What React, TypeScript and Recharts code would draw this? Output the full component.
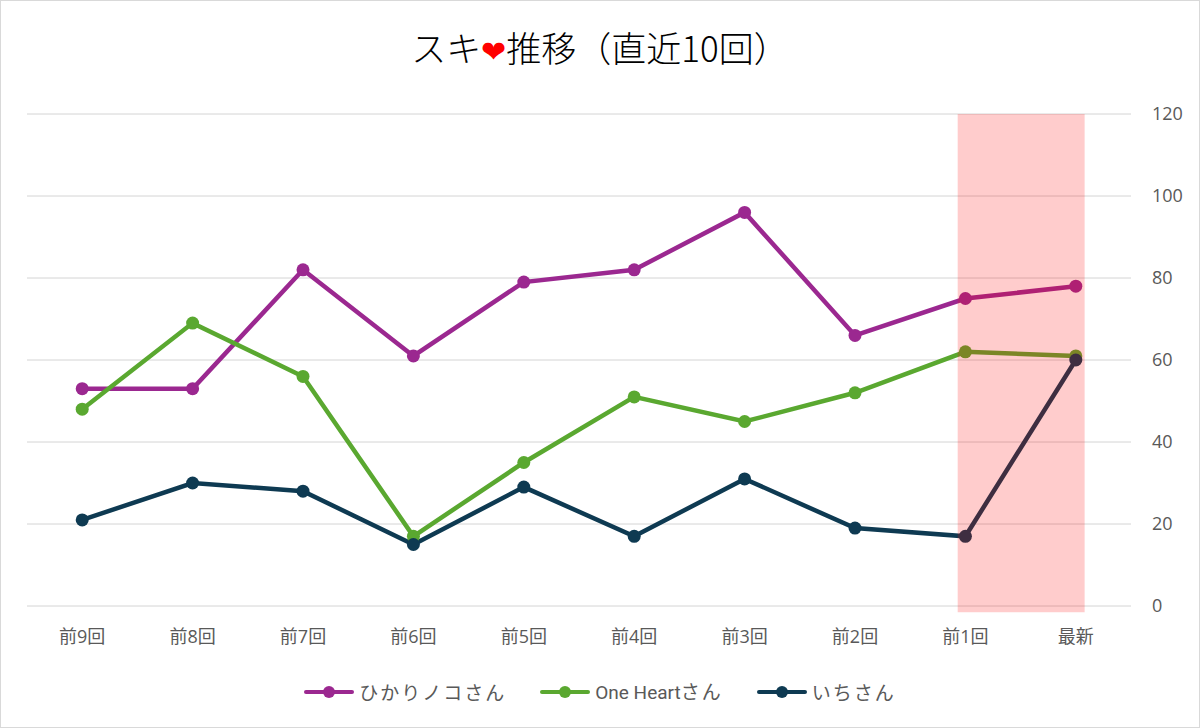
import { CartesianGrid, Line, LineChart, ReferenceArea, XAxis, YAxis } from 'recharts'

const rounds = ['前9回', '前8回', '前7回', '前6回', '前5回', '前4回', '前3回', '前2回', '前1回', '最新']
const hikari = [53, 53, 82, 61, 79, 82, 96, 66, 75, 78]
const oneHeart = [48, 69, 56, 17, 35, 51, 45, 52, 62, 61]
const ichi = [21, 30, 28, 15, 29, 17, 31, 19, 17, 60]
const yTicks = [0, 20, 40, 60, 80, 100, 120]

const series = [
  { key: 'hikari', name: 'ひかりノコさん', color: '#9B2890', values: hikari },
  { key: 'oneHeart', name: 'One Heartさん', color: '#5AA830', values: oneHeart },
  { key: 'ichi', name: 'いちさん', color: '#0E3A52', values: ichi },
]

const data = rounds.map((round, i) => ({
  idx: i,
  round,
  hikari: hikari[i],
  oneHeart: oneHeart[i],
  ichi: ichi[i],
}))

const font = '"Noto Sans CJK JP", "Noto Sans", sans-serif'
const tickFont = '"Open Sans", "Noto Sans CJK JP", sans-serif'
const grey = '#595959'

// latin runs in Roboto, kana spaced out a little like the original
function LegendName({ text }: { text: string }) {
  const parts = text.match(/[A-Za-z ]+|[^A-Za-z ]+/g) || []
  return (
    <span>
      {parts.map((p, i) =>
        /[A-Za-z]/.test(p) ? (
          <span key={i} style={{ fontFamily: 'Roboto, sans-serif', letterSpacing: 0 }}>
            {p}
          </span>
        ) : (
          <span key={i} style={{ letterSpacing: 2 }}>
            {p}
          </span>
        )
      )}
    </span>
  )
}

export default function App() {
  return (
    <div
      style={{
        position: 'absolute',
        left: 0,
        top: 0,
        width: 1200,
        height: 728,
        boxSizing: 'border-box',
        border: '1px solid #d9d9d9',
        background: '#fff',
        fontFamily: font,
      }}
    >
      <div
        style={{
          position: 'absolute',
          top: 22,
          left: 0,
          width: '100%',
          textAlign: 'center',
          fontSize: 35,
          fontWeight: 300,
          lineHeight: '48px',
          color: '#000',
        }}
      >
        スキ<span style={{ color: '#f00', fontFamily: '"DejaVu Sans", sans-serif', fontSize: 30 }}>❤</span>推移（直近10回）
      </div>

      <div style={{ position: 'absolute', left: -1, top: -1 }}>
        <LineChart width={1200} height={728} data={data} margin={{ top: 114, right: 9, bottom: 82, left: 27 }}>
          <CartesianGrid vertical={false} stroke="#d4d4d4" strokeWidth={1} />
          <XAxis
            dataKey="idx"
            type="number"
            domain={[-0.5, 9.5]}
            ticks={rounds.map((_, i) => i)}
            tickFormatter={(v: number) => rounds[v]}
            axisLine={false}
            tickLine={false}
            tickSize={0}
            tickMargin={24}
            height={40}
            tick={{ fill: grey, fontSize: 18, fontFamily: tickFont }}
            interval={0}
          />
          <YAxis
            orientation="right"
            domain={[0, 120]}
            ticks={yTicks}
            axisLine={false}
            tickLine={false}
            tickSize={0}
            tickMargin={21}
            width={60}
            tick={{ fill: grey, fontSize: 18, fontFamily: tickFont, textAnchor: 'start' }}
          />
          {series.map((s) => (
            <Line
              key={s.key}
              dataKey={s.key}
              name={s.name}
              stroke={s.color}
              strokeWidth={4.5}
              dot={{ r: 6.5, fill: s.color, stroke: 'none' }}
              activeDot={false}
              isAnimationActive={false}
            />
          ))}
          <ReferenceArea
            x1={7.93}
            x2={9.08}
            y1={-1.5}
            y2={120}
            fill="#ff0000"
            fillOpacity={0.2}
            stroke="none"
            ifOverflow="visible"
            zIndex={1500}
          />
        </LineChart>
      </div>

      <div
        style={{
          position: 'absolute',
          top: 676,
          left: 0,
          width: '100%',
          display: 'flex',
          justifyContent: 'center',
          gap: 34,
          fontSize: 19,
          color: grey,
          lineHeight: '28px',
        }}
      >
        {series.map((s) => (
          <div key={s.key} style={{ display: 'flex', alignItems: 'center' }}>
            <svg width={50} height={14} style={{ marginRight: 5 }}>
              <line x1={2} y1={7} x2={48} y2={7} stroke={s.color} strokeWidth={4} strokeLinecap="round" />
              <circle cx={25} cy={7} r={6} fill={s.color} />
            </svg>
            <LegendName text={s.name} />
          </div>
        ))}
      </div>
    </div>
  )
}
